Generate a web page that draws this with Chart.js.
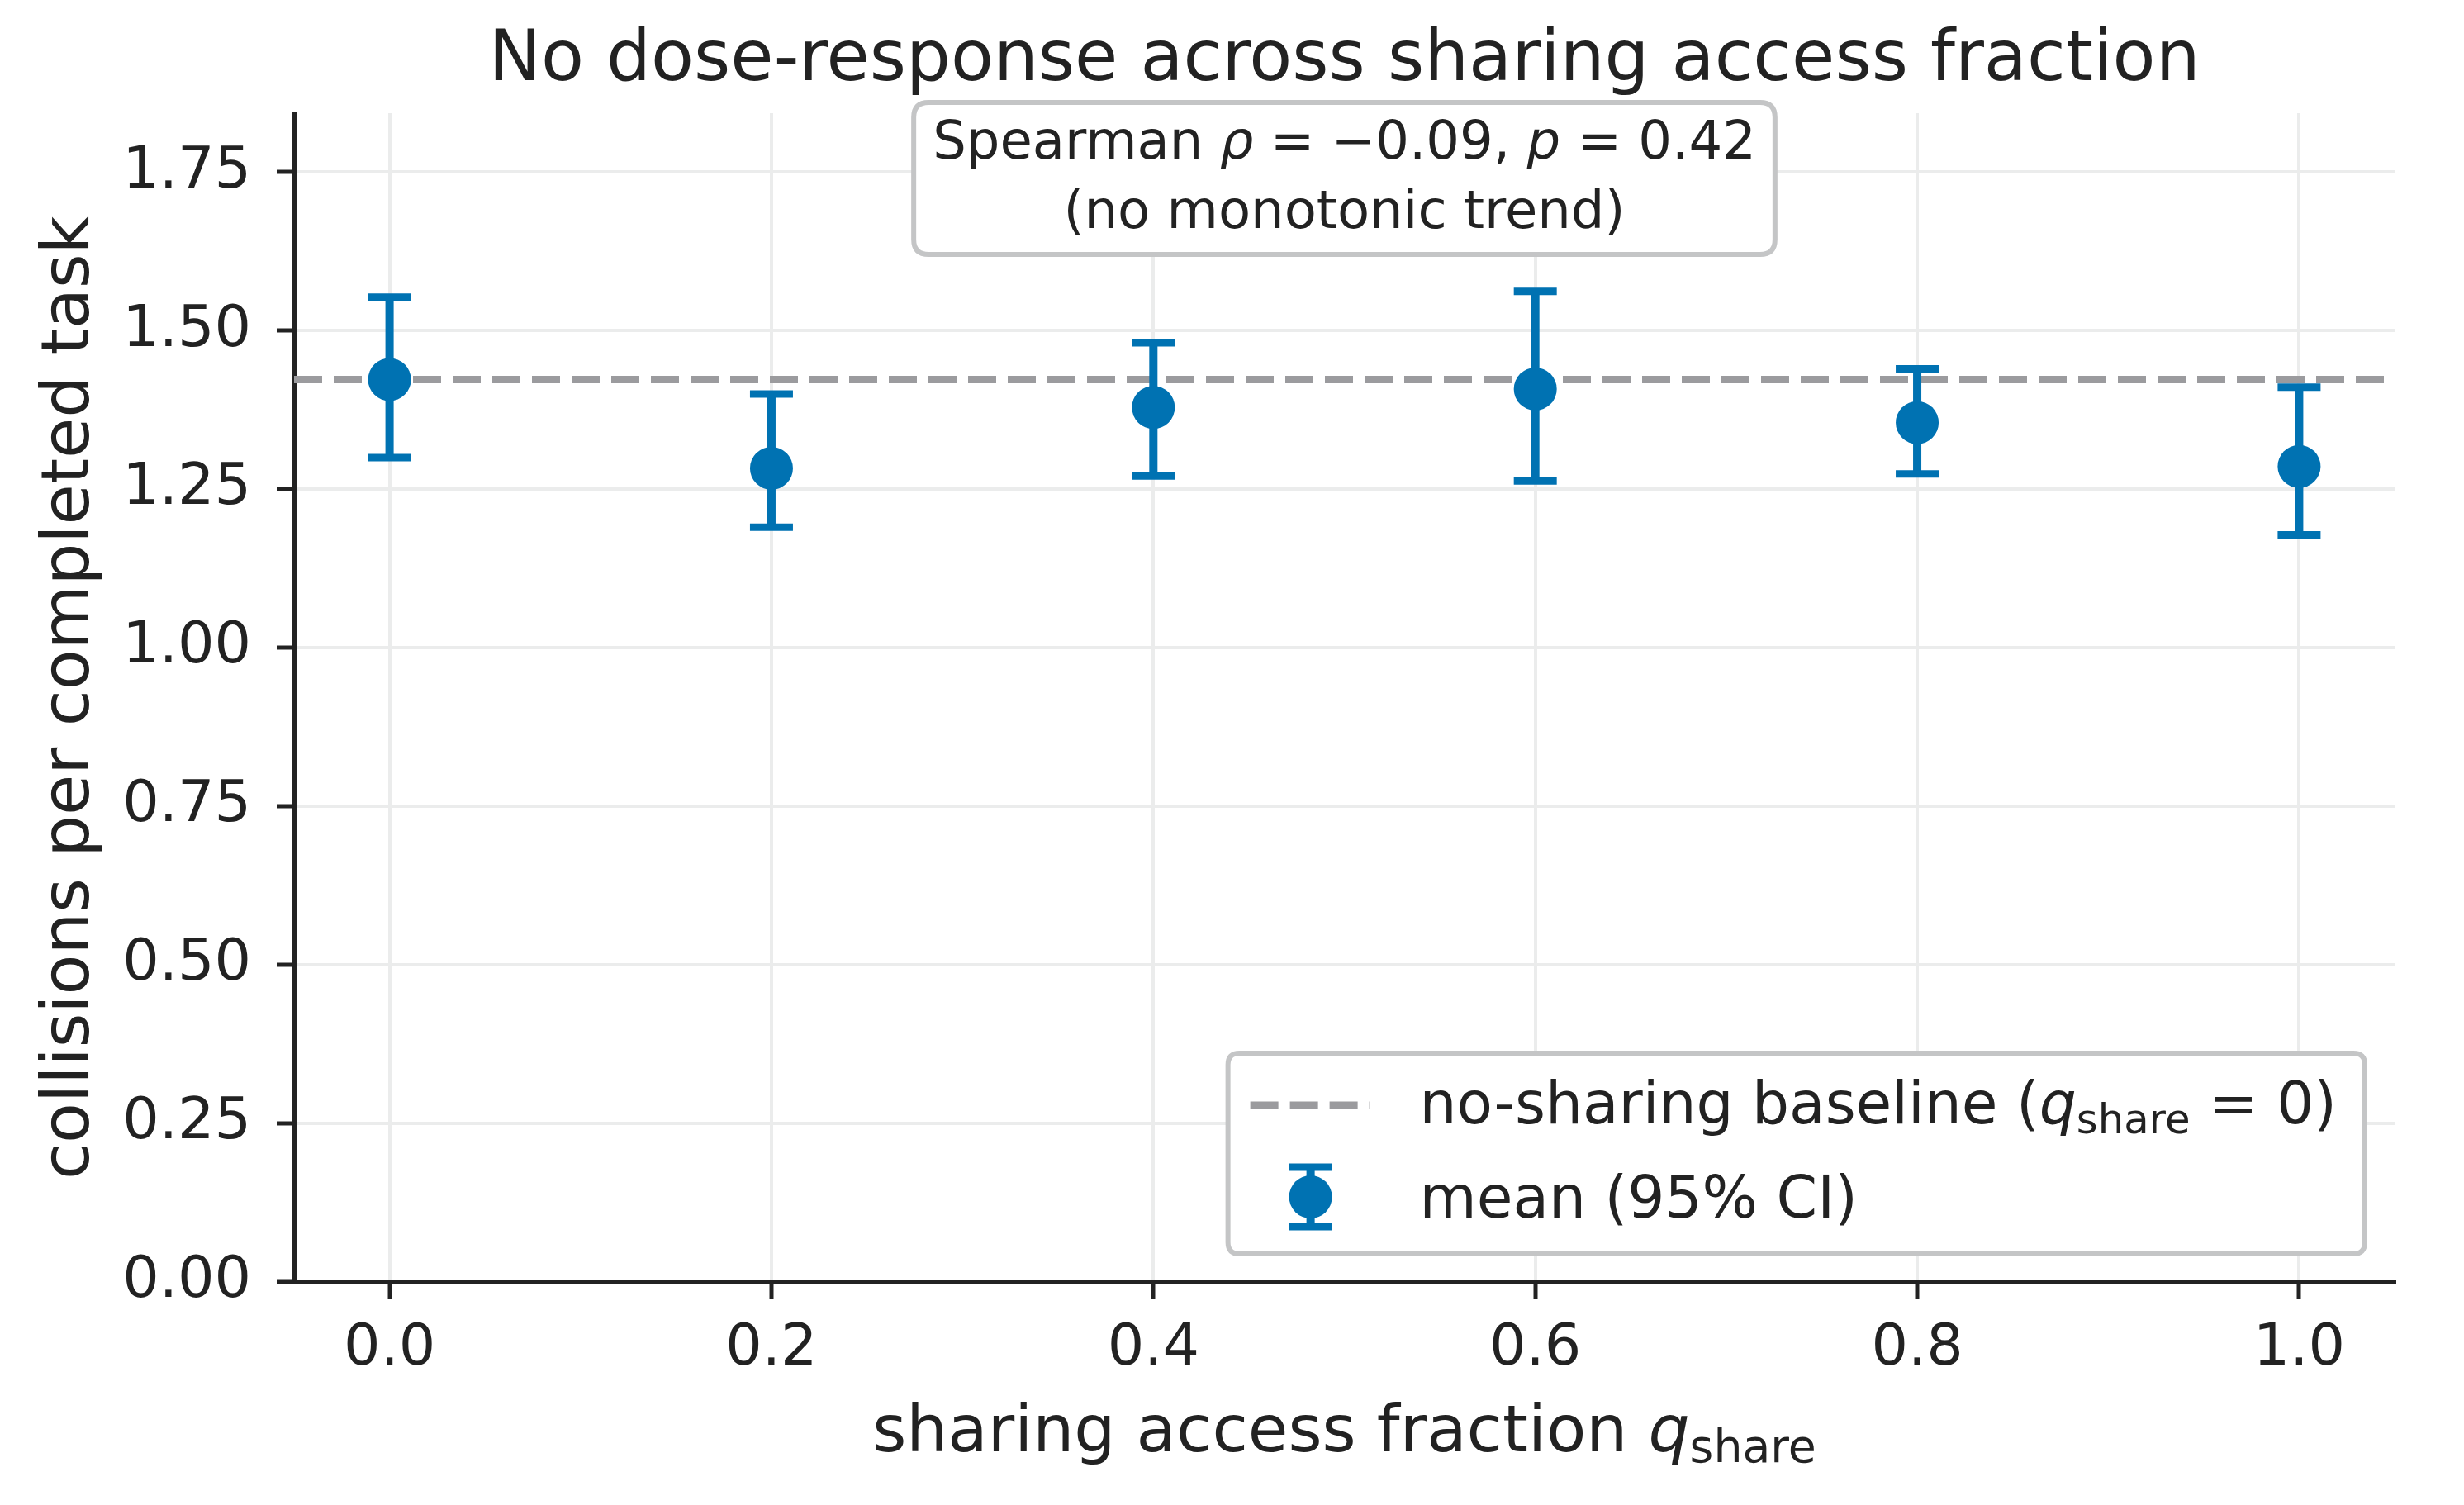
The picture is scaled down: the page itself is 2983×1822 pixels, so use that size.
<!DOCTYPE html>
<html>
<head>
<meta charset="utf-8">
<title>No dose-response across sharing access fraction</title>
<script src="https://cdn.jsdelivr.net/npm/chart.js@4.4.1/dist/chart.umd.min.js"></script>
<style>
  html, body { margin: 0; padding: 0; background: #fff; }
  #wrap { width: 2983px; height: 1822px; position: relative; }
</style>
</head>
<body>
<div id="wrap"><canvas id="doseChart"></canvas></div>
<script>
// values
const qShare = [0.0, 0.2, 0.4, 0.6, 0.8, 1.0];
const meanCollisions = [1.423, 1.283, 1.379, 1.408, 1.355, 1.286];
const ciLow = [1.300, 1.190, 1.271, 1.263, 1.274, 1.178];
const ciHigh = [1.553, 1.400, 1.481, 1.562, 1.440, 1.411];
const baselineValue = 1.423;

const xTickValues = [0.0, 0.2, 0.4, 0.6, 0.8, 1.0];
const yTickValues = [0.0, 0.25, 0.5, 0.75, 1.0, 1.25, 1.5, 1.75];
const xRange = [-0.05, 1.05];
const yRange = [0, 1.843];

const FONT = "'DejaVu Sans', sans-serif";
const INK = '#222222';
const BLUE = '#0072B2';
const GREY = '#9b9b9e';
const GRID = '#ebecec';

// mixed text runs (italic / subscript) like matplotlib mathtext
const runFont = (r, size) => `${r.italic ? 'italic ' : ''}${r.sub ? size * 0.7 : size}px ${FONT}`;
const runsWidth = (ctx, runs, size) => runs.reduce((w, r) => {
  ctx.font = runFont(r, size);
  return w + ctx.measureText(r.t).width;
}, 0);
const drawRuns = (ctx, runs, x, y, size, align) => {
  const w = runsWidth(ctx, runs, size);
  let cx = align === 'center' ? x - w / 2 : x;
  ctx.textAlign = 'left';
  ctx.textBaseline = 'alphabetic';
  runs.forEach(r => {
    ctx.font = runFont(r, size);
    ctx.fillText(r.t, cx, r.sub ? y + size * 0.17 : y);
    cx += ctx.measureText(r.t).width;
  });
  return w;
};
const roundBox = (ctx, x, y, w, h, rad) => {
  ctx.beginPath();
  ctx.moveTo(x + rad, y);
  ctx.lineTo(x + w - rad, y);
  ctx.quadraticCurveTo(x + w, y, x + w, y + rad);
  ctx.lineTo(x + w, y + h - rad);
  ctx.quadraticCurveTo(x + w, y + h, x + w - rad, y + h);
  ctx.lineTo(x + rad, y + h);
  ctx.quadraticCurveTo(x, y + h, x, y + h - rad);
  ctx.lineTo(x, y + rad);
  ctx.quadraticCurveTo(x, y, x + rad, y);
  ctx.closePath();
};

const titleText = 'No dose-response across sharing access fraction';
const yTitle = 'collisions per completed task';
const xTitleRuns = [{ t: 'sharing access fraction ' }, { t: 'q', italic: true }, { t: 'share', sub: true }];
const statRuns = [{ t: 'Spearman ' }, { t: 'ρ', italic: true }, { t: ' = −0.09, ' }, { t: 'p', italic: true }, { t: ' = 0.42' }];
const statNote = '(no monotonic trend)';
const legendBaseRuns = [{ t: 'no-sharing baseline (' }, { t: 'q', italic: true }, { t: 'share', sub: true }, { t: ' = 0)' }];
const legendMeanRuns = [{ t: 'mean (95% CI)' }];

const drawErrorBar = (ctx, px, pTop, pBot, capHalf) => {
  ctx.strokeStyle = BLUE;
  ctx.lineCap = 'butt';
  ctx.lineWidth = 10;
  ctx.beginPath();
  ctx.moveTo(px, pTop);
  ctx.lineTo(px, pBot);
  ctx.stroke();
  ctx.lineWidth = 9;
  ctx.beginPath();
  ctx.moveTo(px - capHalf, pTop);
  ctx.lineTo(px + capHalf, pTop);
  ctx.moveTo(px - capHalf, pBot);
  ctx.lineTo(px + capHalf, pBot);
  ctx.stroke();
};

const errorBars = {
  id: 'errorBars',
  beforeDatasetDraw(chart, args) {
    if (args.index !== 0) return;
    const { ctx, scales: { x, y } } = chart;
    ctx.save();
    qShare.forEach((q, i) => {
      drawErrorBar(ctx, x.getPixelForValue(q), y.getPixelForValue(ciHigh[i]), y.getPixelForValue(ciLow[i]), 26);
    });
    ctx.restore();
  }
};

const decorations = {
  id: 'decorations',
  afterDraw(chart) {
    const { ctx, chartArea: area } = chart;
    const midX = (area.left + area.right) / 2;
    ctx.save();
    ctx.fillStyle = INK;

    // title and axis titles
    ctx.font = `85px ${FONT}`;
    ctx.textAlign = 'center';
    ctx.textBaseline = 'alphabetic';
    ctx.fillText(titleText, midX, 97);
    drawRuns(ctx, xTitleRuns, midX, 1757, 79, 'center');
    ctx.save();
    ctx.translate(107, (area.top + area.bottom) / 2);
    ctx.rotate(-Math.PI / 2);
    ctx.font = `80px ${FONT}`;
    ctx.textAlign = 'center';
    ctx.fillText(yTitle, 0, 0);
    ctx.restore();

    // stats box
    const statSize = 64;
    const w1 = runsWidth(ctx, statRuns, statSize);
    const bw = w1 + 46, bTop = 124, bH = 184;
    roundBox(ctx, midX - bw / 2, bTop, bw, bH, 18);
    ctx.fillStyle = '#ffffff';
    ctx.fill();
    ctx.strokeStyle = '#c4c5c6';
    ctx.lineWidth = 6;
    ctx.stroke();
    ctx.fillStyle = INK;
    drawRuns(ctx, statRuns, midX, bTop + 68, statSize, 'center');
    ctx.font = `${statSize}px ${FONT}`;
    ctx.textAlign = 'center';
    ctx.fillText(statNote, midX, bTop + 152);

    // legend
    const legSize = 71;
    const tw = Math.max(runsWidth(ctx, legendBaseRuns, legSize), runsWidth(ctx, legendMeanRuns, legSize));
    const lRight = area.right - 36, lBottom = area.bottom - 34, lTop = lBottom - 243;
    const lLeft = lRight - (232 + tw + 34);
    roundBox(ctx, lLeft, lTop, lRight - lLeft, lBottom - lTop, 14);
    ctx.fillStyle = '#ffffff';
    ctx.fill();
    ctx.strokeStyle = '#c4c5c6';
    ctx.lineWidth = 6;
    ctx.stroke();

    ctx.strokeStyle = GREY;
    ctx.lineWidth = 9;
    ctx.setLineDash([34, 14]);
    ctx.beginPath();
    ctx.moveTo(lLeft + 27, lTop + 63);
    ctx.lineTo(lLeft + 172, lTop + 63);
    ctx.stroke();
    ctx.setLineDash([]);

    const hx = lLeft + 100, hy = lTop + 174;
    drawErrorBar(ctx, hx, hy - 36, hy + 36, 26);
    ctx.fillStyle = BLUE;
    ctx.beginPath();
    ctx.arc(hx, hy, 26, 0, Math.PI * 2);
    ctx.fill();

    ctx.fillStyle = INK;
    drawRuns(ctx, legendBaseRuns, lLeft + 232, lTop + 85, legSize, 'left');
    drawRuns(ctx, legendMeanRuns, lLeft + 232, lTop + 199, legSize, 'left');
    ctx.restore();
  }
};

const tickFont = { family: FONT, size: 70 };

new Chart(document.getElementById('doseChart'), {
  type: 'scatter',
  data: {
    datasets: [
      {
        label: 'mean (95% CI)',
        data: qShare.map((q, i) => ({ x: q, y: meanCollisions[i] })),
        backgroundColor: BLUE,
        borderColor: BLUE,
        borderWidth: 0,
        pointRadius: 26,
        pointHoverRadius: 26
      },
      {
        type: 'line',
        label: 'no-sharing baseline',
        data: xRange.map(x => ({ x, y: baselineValue })),
        borderColor: GREY,
        borderWidth: 9,
        borderDash: [34, 14],
        pointRadius: 0,
        fill: false
      }
    ]
  },
  options: {
    responsive: true,
    maintainAspectRatio: false,
    devicePixelRatio: 1,
    animation: false,
    layout: { padding: { top: 137, right: 84, bottom: 0, left: 0 } },
    plugins: {
      legend: { display: false },
      title: { display: false },
      tooltip: { enabled: false }
    },
    scales: {
      x: {
        type: 'linear',
        position: 'bottom',
        min: xRange[0],
        max: xRange[1],
        afterBuildTicks: axis => { axis.ticks = xTickValues.map(v => ({ value: v })); },
        afterFit: axis => { axis.height = 270; },
        grid: { color: GRID, lineWidth: 4, drawTicks: true, tickColor: INK, tickWidth: 5, tickLength: 21 },
        border: { display: true, color: INK, width: 5 },
        ticks: { font: tickFont, color: INK, padding: 19, maxRotation: 0, callback: v => v.toFixed(1) }
      },
      y: {
        type: 'linear',
        min: yRange[0],
        max: yRange[1],
        afterBuildTicks: axis => { axis.ticks = yTickValues.map(v => ({ value: v })); },
        afterFit: axis => { axis.width = 356; },
        grid: { color: GRID, lineWidth: 4, drawTicks: true, tickColor: INK, tickWidth: 5, tickLength: 21 },
        border: { display: true, color: INK, width: 5 },
        ticks: { font: tickFont, color: INK, padding: 31, callback: v => v.toFixed(2) }
      }
    }
  },
  plugins: [errorBars, decorations]
});
</script>
</body>
</html>
